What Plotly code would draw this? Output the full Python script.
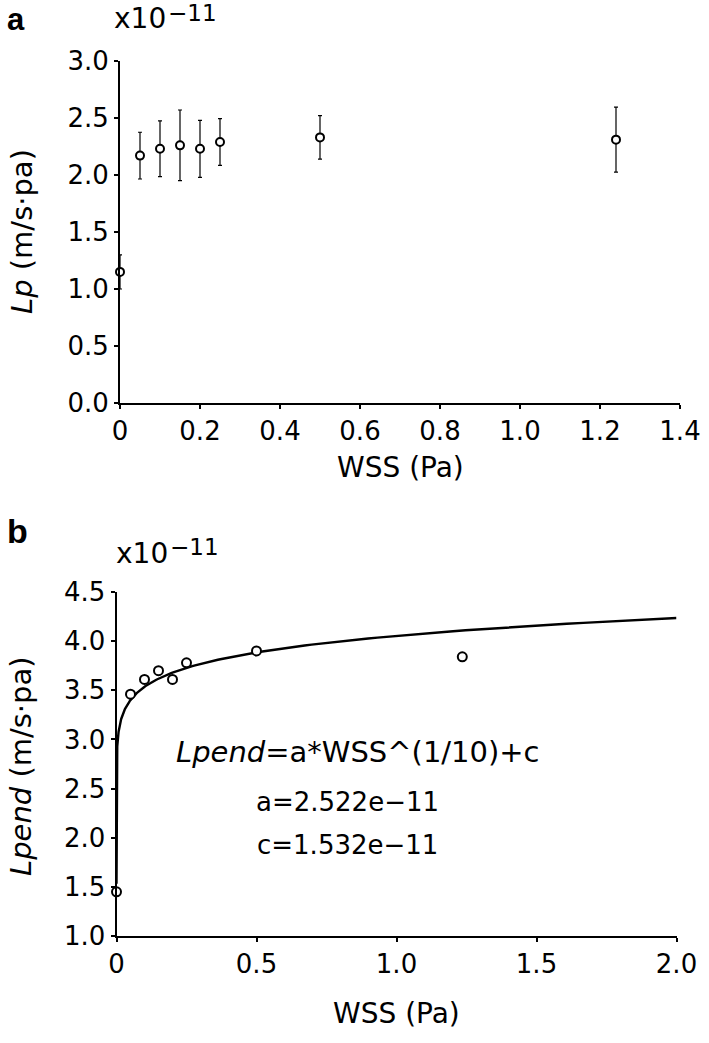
import numpy as np
import plotly.graph_objects as go

# panel a: Lp vs WSS (values in units of 1e-11 m/s.pa)
wss_a = [0.0, 0.05, 0.10, 0.15, 0.20, 0.25, 0.50, 1.24]
lp_a = [1.15, 2.17, 2.23, 2.26, 2.23, 2.29, 2.33, 2.31]
lp_err = [0.15, 0.205, 0.245, 0.31, 0.25, 0.205, 0.19, 0.285]

# panel b: Lpend vs WSS (values in units of 1e-11)
wss_b = [0.0, 0.05, 0.10, 0.15, 0.20, 0.25, 0.50, 1.235]
lpend_b = [1.45, 3.46, 3.61, 3.70, 3.61, 3.78, 3.90, 3.84]

# fitted model given on the chart: Lpend = a*WSS^(1/10) + c
fit_a = 2.522
fit_c = 1.532

ticks_a_x = [0, 0.2, 0.4, 0.6, 0.8, 1.0, 1.2, 1.4]
ticks_a_x_text = ["0", "0.2", "0.4", "0.6", "0.8", "1.0", "1.2", "1.4"]
ticks_a_y = [0, 0.5, 1.0, 1.5, 2.0, 2.5, 3.0]
ticks_b_x = [0, 0.5, 1.0, 1.5, 2.0]
ticks_b_x_text = ["0", "0.5", "1.0", "1.5", "2.0"]
ticks_b_y = [1.0, 1.5, 2.0, 2.5, 3.0, 3.5, 4.0, 4.5]

FONT = "DejaVu Sans, Arial, sans-serif"
BOLD = "Liberation Sans, Arial, sans-serif"
W, H = 709, 1043

fit_x = np.concatenate([[0.0], np.geomspace(1e-6, 2.0, 400)])
fit_y = fit_a * fit_x ** 0.1 + fit_c

fig = go.Figure()

fig.add_trace(go.Scatter(
    x=wss_a, y=lp_a, mode="markers", xaxis="x", yaxis="y",
    error_y=dict(type="data", array=lp_err, color="black", thickness=1.2, width=2),
    marker=dict(symbol="circle", size=8, color="white", line=dict(color="black", width=2)),
    cliponaxis=False, showlegend=False,
))

fig.add_trace(go.Scatter(
    x=fit_x, y=fit_y, mode="lines", xaxis="x2", yaxis="y2",
    line=dict(color="black", width=2.4), showlegend=False,
))
fig.add_trace(go.Scatter(
    x=wss_b, y=lpend_b, mode="markers", xaxis="x2", yaxis="y2",
    marker=dict(symbol="circle", size=9, color="white", line=dict(color="black", width=2)),
    cliponaxis=False, showlegend=False,
))

axis_common = dict(
    showline=True, linecolor="black", linewidth=2, showgrid=False, zeroline=False,
    ticks="outside", ticklen=4, tickwidth=2, tickcolor="black", automargin=False,
    tickfont=dict(size=26, color="black", family=FONT),
)

fig.update_layout(
    template="none",
    width=W, height=H,
    margin=dict(l=0, r=0, t=0, b=0, pad=0),
    paper_bgcolor="white", plot_bgcolor="white",
    font=dict(family=FONT, color="black"),
    xaxis=dict(domain=[120 / W, 680 / W], range=[0, 1.4], anchor="y",
               tickvals=ticks_a_x, ticktext=ticks_a_x_text, **axis_common),
    yaxis=dict(domain=[1 - 403 / H, 1 - 61 / H], range=[0, 3.0], anchor="x",
               tickvals=ticks_a_y, tickformat=".1f", **axis_common),
    xaxis2=dict(domain=[116.5 / W, 676.5 / W], range=[0, 2.0], anchor="y2",
                tickvals=ticks_b_x, ticktext=ticks_b_x_text, **axis_common),
    yaxis2=dict(domain=[1 - 936 / H, 1 - 592 / H], range=[1.0, 4.5], anchor="x2",
                tickvals=ticks_b_y, tickformat=".1f", **axis_common),
)

# (text, x px, y px, xanchor, yanchor, size, font, angle)
annots = [
    ("<b>a</b>", 5, 0, "left", "top", 31, BOLD, 0),
    ("<b>b</b>", 5, 531, "left", "middle", 34, BOLD, 0),
    ("x10", 112, 18, "left", "middle", 28, FONT, 0),
    ("−11", 166, 13, "left", "middle", 23, FONT, 0),
    ("x10", 114, 553, "left", "middle", 28, FONT, 0),
    ("−11", 168, 547, "left", "middle", 23, FONT, 0),
    ("WSS (Pa)", 400, 467, "center", "middle", 28, FONT, 0),
    ("WSS (Pa)", 396, 1013, "center", "middle", 28, FONT, 0),
    ("<i>Lp</i> (m/s·pa)", 22, 232, "center", "middle", 29, FONT, -90),
    ("<i>Lpend</i> (m/s·pa)", 21, 766, "center", "middle", 29, FONT, -90),
    ("<i>Lpend</i>=a*WSS^(1/10)+c", 358, 752, "center", "middle", 29, FONT, 0),
    ("a=2.522e−11", 347, 802, "center", "middle", 26, FONT, 0),
    ("c=1.532e−11", 347, 845, "center", "middle", 26, FONT, 0),
]
for text, px, py, xa, ya, size, family, angle in annots:
    fig.add_annotation(
        text=text, x=px / W, y=1 - py / H, xref="paper", yref="paper",
        xanchor=xa, yanchor=ya, showarrow=False, textangle=angle,
        font=dict(size=size, color="black", family=family),
    )

# drop the page's default body margin so the figure sits at the window corner
fig.write_html("out.html", config={"displayModeBar": False},
               post_script="document.body.style.margin = '0';")
